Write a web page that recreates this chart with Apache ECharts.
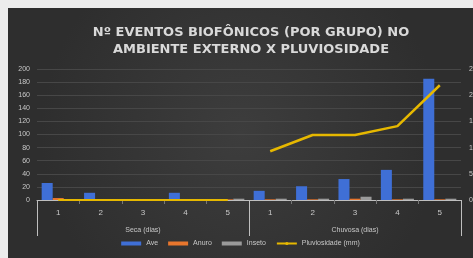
<!DOCTYPE html>
<html lang="pt">
<head>
    <meta charset="UTF-8">
    <title>Eventos biofônicos x pluviosidade</title>
    <script src="https://cdn.jsdelivr.net/npm/echarts@6/dist/echarts.min.js"></script>
    <style>
        html, body { margin: 0; padding: 0; background: #ececec; overflow: hidden; }
        #main { position: absolute; left: 8px; top: 8px; width: 465px; height: 250px; }
    </style>
</head>
<body>
    <div id="main"></div>
    <script type="text/javascript">
        // dados
        var dias = ['1', '2', '3', '4', '5', '1', '2', '3', '4', '5'];
        var periodos = ['Seca (dias)', 'Chuvosa (dias)'];
        var ave = [26, 11, 0, 11, 1, 14, 21, 32, 46, 185];
        var anuro = [3, 1, 1, 1, 1, 1, 1, 2, 1, 1];
        var inseto = [1, 1, 1, 1, 2, 2, 2, 5, 2, 2];
        // pluviosidade: zero na seca, valores na chuvosa (linhas separadas)
        var pluvioSeca = [0, 0, 0, 0, 0, null, null, null, null, null];
        var pluvioChuvosa = [null, null, null, null, null, 93, 124, 124, 141, 219];

        var myChart = echarts.init(document.getElementById('main'));
        var txt = '#c8c8c8';

        var option = {
            backgroundColor: {
                type: 'radial', x: 0.5, y: 0.5, r: 0.8,
                colorStops: [{offset: 0, color: '#3d3d3d'}, {offset: 1, color: '#2e2e2e'}]
            },
            title: {
                text: 'Nº EVENTOS BIOFÔNICOS (POR GRUPO) NO\nAMBIENTE EXTERNO X PLUVIOSIDADE',
                left: 238,
                top: 11,
                textAlign: 'center',
                textStyle: {
                    color: '#d9d9d9',
                    fontSize: 13,
                    fontWeight: 'bold',
                    fontFamily: 'DejaVu Sans',
                    lineHeight: 17
                }
            },
            legend: {
                bottom: 6,
                left: 'center',
                itemWidth: 20,
                itemHeight: 4,
                itemGap: 10,
                textStyle: {color: txt, fontSize: 7},
                data: [
                    {name: 'Ave', icon: 'rect'},
                    {name: 'Anuro', icon: 'rect'},
                    {name: 'Inseto', icon: 'rect'},
                    {name: 'Pluviosidade (mm)'}
                ]
            },
            grid: {left: 29, right: 12, top: 61, bottom: 58, outerBoundsMode: 'none', containLabel: false},
            xAxis: [
                {
                    type: 'category',
                    data: dias,
                    axisLine: {lineStyle: {color: '#bfbfbf', width: 1}},
                    axisTick: {show: true, length: 4, lineStyle: {color: '#777'}},
                    axisLabel: {color: txt, fontSize: 8, margin: 9, interval: 0}
                },
                {
                    type: 'category',
                    data: periodos,
                    position: 'bottom',
                    axisLine: {show: false},
                    axisTick: {show: true, length: 36, lineStyle: {color: '#bfbfbf'}},
                    axisLabel: {color: txt, fontSize: 7, margin: 27}
                }
            ],
            yAxis: [
                {
                    type: 'value',
                    min: 0,
                    max: 200,
                    interval: 20,
                    axisLine: {show: false},
                    axisTick: {show: false},
                    axisLabel: {color: txt, fontSize: 7, margin: 7},
                    splitLine: {lineStyle: {color: '#474747', width: 1}}
                },
                {
                    type: 'value',
                    min: 0,
                    max: 250,
                    interval: 50,
                    axisLine: {show: false},
                    axisTick: {show: false},
                    axisLabel: {color: txt, fontSize: 7, margin: 8},
                    splitLine: {show: false}
                }
            ],
            series: [
                {
                    name: 'Ave', type: 'bar', data: ave,
                    barGap: '0%', barCategoryGap: '22%',
                    itemStyle: {color: '#3f6fd6'}
                },
                {
                    name: 'Anuro', type: 'bar', data: anuro,
                    itemStyle: {color: '#e8762d'}
                },
                {
                    name: 'Inseto', type: 'bar', data: inseto,
                    itemStyle: {color: '#9a9a9a'}
                },
                {
                    name: 'Pluviosidade (mm)', type: 'line', yAxisIndex: 1, data: pluvioSeca,
                    symbol: 'none', color: '#e6b800',
                    lineStyle: {color: '#e6b800', width: 2}
                },
                {
                    name: 'Pluviosidade (mm)', type: 'line', yAxisIndex: 1, data: pluvioChuvosa,
                    symbol: 'none', color: '#e6b800',
                    lineStyle: {color: '#e6b800', width: 2.5}
                }
            ]
        };
        myChart.setOption(option);
    </script>
</body>
</html>
